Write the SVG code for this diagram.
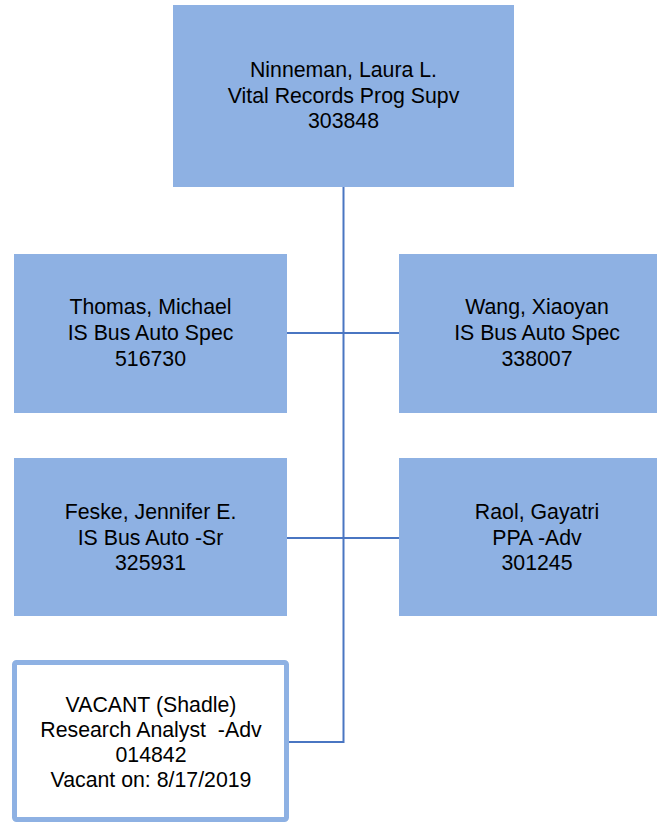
<svg xmlns="http://www.w3.org/2000/svg" width="657" height="822" viewBox="0 0 657 822">
<style>
.box{fill:#8EB1E3;}
.vac{fill:#FFFFFF;stroke:#8EB1E3;stroke-width:5;}
.t{font-family:"Liberation Sans",Arial,sans-serif;font-size:21.3px;fill:#000;text-anchor:middle;}
.c{fill:none;stroke:#4A76C2;stroke-width:2;}
</style>
<rect width="657" height="822" fill="#FFFFFF"/>
<g id="connectors">
<path class="c" d="M343.5 187 V742 H288"/>
<path class="c" d="M287 333 H399"/>
<path class="c" d="M287 538 H399"/>
</g>
<g id="n-ninneman">
<rect class="box" x="173" y="5" width="341" height="182"/>
<text class="t" x="343.5" y="77">Ninneman, Laura L.</text>
<text class="t" x="343.5" y="102.5">Vital Records Prog Supv</text>
<text class="t" x="343.5" y="128">303848</text>
</g>
<g id="n-thomas">
<rect class="box" x="14" y="254" width="273" height="159"/>
<text class="t" x="150.5" y="314">Thomas, Michael</text>
<text class="t" x="150.5" y="340">IS Bus Auto Spec</text>
<text class="t" x="150.5" y="366">516730</text>
</g>
<g id="n-wang">
<rect class="box" x="399" y="254" width="273" height="159"/>
<text class="t" x="537" y="314">Wang, Xiaoyan</text>
<text class="t" x="537" y="340">IS Bus Auto Spec</text>
<text class="t" x="537" y="366">338007</text>
</g>
<g id="n-feske">
<rect class="box" x="14" y="458" width="273" height="158"/>
<text class="t" x="150.5" y="519">Feske, Jennifer E.</text>
<text class="t" x="150.5" y="544.5">IS Bus Auto -Sr</text>
<text class="t" x="150.5" y="570">325931</text>
</g>
<g id="n-raol">
<rect class="box" x="399" y="458" width="273" height="158"/>
<text class="t" x="537" y="519">Raol, Gayatri</text>
<text class="t" x="537" y="544.5">PPA -Adv</text>
<text class="t" x="537" y="570">301245</text>
</g>
<g id="n-vacant">
<rect class="vac" x="14.5" y="662.5" width="272" height="157" rx="2"/>
<text class="t" x="151" y="712">VACANT (Shadle)</text>
<text class="t" x="151" y="736.5">Research Analyst&#160; -Adv</text>
<text class="t" x="151" y="761.5">014842</text>
<text class="t" x="151" y="787">Vacant on: 8/17/2019</text>
</g>
</svg>
